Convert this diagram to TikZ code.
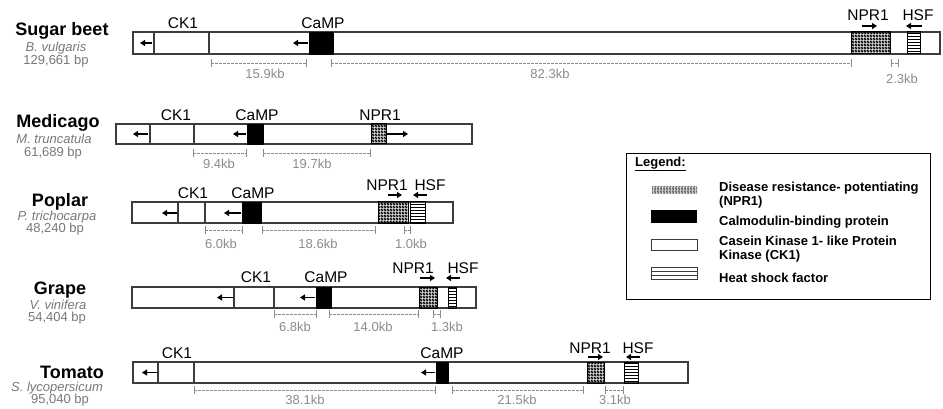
\documentclass[tikz,border=0pt]{standalone}
\usepackage{fontspec}
\setmainfont{Liberation Sans}
\usetikzlibrary{arrows.meta,patterns}
\definecolor{boxgray}{RGB}{60,60,60}
\definecolor{dimgray}{RGB}{140,140,140}
\definecolor{spgray}{RGB}{120,120,120}
\newcommand\ttlf{\fontsize{18}{20}\selectfont\bfseries}
\newcommand\genef{\fontsize{15.5}{17}\selectfont}
\newcommand\spf{\fontsize{13}{14}\selectfont\itshape}
\newcommand\bpf{\fontsize{13}{14}\selectfont}
\newcommand\dimf{\fontsize{13}{14}\selectfont}
\newcommand\legf{\fontsize{13}{14}\selectfont\bfseries}
\pgfdeclarepatternformonly{stipple}{\pgfqpoint{0pt}{0pt}}{\pgfqpoint{3pt}{3pt}}{\pgfqpoint{3pt}{3pt}}{%
  \pgfseteorule
  \pgfpathrectangle{\pgfqpoint{0pt}{0pt}}{\pgfqpoint{3pt}{3pt}}%
  \pgfpathcircle{\pgfqpoint{0.75pt}{0.75pt}}{0.72pt}%
  \pgfpathcircle{\pgfqpoint{2.25pt}{2.25pt}}{0.72pt}%
  \pgfusepath{fill}}
\tikzset{
  chrom/.style={draw=boxgray, line width=1.2pt, fill=white},
  divline/.style={draw=boxgray, line width=1.2pt},
  campbox/.style={fill=black, draw=black, line width=0.8pt},
  nprbox/.style={draw=black, line width=1pt, pattern=stipple, pattern color=black},
  hsfbox/.style={draw=black, line width=1pt, pattern=horizontal lines, pattern color=black},
  dirarrow/.style={line width=1.4pt, -{Triangle[length=5pt,width=6pt]}},
  dimln/.style={draw=dimgray, line width=0.7pt, dash pattern=on 2.5pt off 1.5pt},
  dimtick/.style={draw=dimgray, line width=0.7pt},
  gl/.style={font=\genef, inner sep=0pt},
  dl/.style={font=\dimf, text=dimgray, inner sep=0pt},
  ttl/.style={font=\ttlf, inner sep=0pt},
  spl/.style={font=\spf, text=spgray, inner sep=0pt},
  bpl/.style={font=\bpf, text=spgray, inner sep=0pt},
  legtxt/.style={font=\legf, inner sep=0pt, anchor=west, align=left},
}
% #1 x1, #2 x2, #3 y, #4 label x, #5 label y, #6 text
\newcommand\kbdim[6]{%
  \coordinate (dA) at (#1,#3); \coordinate (dB) at (#2,#3);
  \draw[dimln] (dA) -- (dB);
  \draw[dimtick] ([yshift=4pt]dA) -- ([yshift=-4pt]dA);
  \draw[dimtick] ([yshift=4pt]dB) -- ([yshift=-4pt]dB);
  \node[dl] at (#4,#5) {#6};
}
\begin{document}
\begin{tikzpicture}[x=1pt,y=-1pt]
\useasboundingbox (0,0) rectangle (943,409);
\fill[white] (0,0) rectangle (943,409);

% ---------------- Sugar beet ----------------
\node[ttl] (t1) at (62,31) {Sugar beet};
\node[spl] (s1) at (56,48) {B. vulgaris};
\node[bpl] (b1) at (56,61) {129,661 bp};
\draw[chrom] (133,32) rectangle (940,54);
\draw[divline] (154,32) -- (154,54);
\draw[divline] (209,32) -- (209,54);
\draw[dirarrow] (152,43) -- (140,43);
\draw[campbox] (309,32) rectangle (333,54);
\draw[dirarrow] (308,43) -- (293,43);
\draw[nprbox] (851,32) rectangle (890,54);
\draw[hsfbox] (907,32) rectangle (920,54);
\node[gl] (ck1a) at (183,23) {CK1};
\node[gl] (cam1) at (323,23) {CaMP};
\node[gl] (npr1) at (868,15) {NPR1};
\node[gl] (hsf1) at (918,15) {HSF};
\draw[dirarrow] (862,26) -- (877,26);
\draw[dirarrow] (922,26) -- (906,26);
\kbdim{211}{306}{63}{265}{74}{15.9kb}
\kbdim{331}{851}{63}{550}{74}{82.3kb}
\kbdim{891}{898}{63}{902}{79}{2.3kb}

% ---------------- Medicago ----------------
\node[ttl] (t2) at (58,123) {Medicago};
\node[spl] (s2) at (54,139) {M. truncatula};
\node[bpl] (b2) at (53,153) {61,689 bp};
\draw[chrom] (116,124) rectangle (472,144);
\draw[divline] (150,124) -- (150,144);
\draw[divline] (194,124) -- (194,144);
\draw[dirarrow] (148,134) -- (133,134);
\draw[campbox] (247,124) rectangle (263,144);
\draw[dirarrow] (246,134) -- (233,134);
\draw[nprbox] (371,124) rectangle (386,144);
\draw[dirarrow] (387,134) -- (408,134);
\node[gl] (ck12) at (176,115) {CK1};
\node[gl] (cam2) at (257,115) {CaMP};
\node[gl] (npr2) at (380,115) {NPR1};
\kbdim{193}{246}{153}{219}{164}{9.4kb}
\kbdim{263}{370}{153}{312}{164}{19.7kb}

% ---------------- Poplar ----------------
\node[ttl] (t3) at (60,202) {Poplar};
\node[spl] (s3) at (57,217) {P. trichocarpa};
\node[bpl] (b3) at (55,229) {48,240 bp};
\draw[chrom] (132,202) rectangle (453,223);
\draw[divline] (178,202) -- (178,223);
\draw[divline] (205,202) -- (205,223);
\draw[dirarrow] (177,213) -- (162,213);
\draw[campbox] (242,202) rectangle (261,223);
\draw[dirarrow] (241,213) -- (224,213);
\draw[nprbox] (378,202) rectangle (408,223);
\draw[hsfbox] (410,202) rectangle (425,223);
\node[gl] (ck13) at (193,193) {CK1};
\node[gl] (cam3) at (253,193) {CaMP};
\node[gl] (npr3) at (387,185) {NPR1};
\node[gl] (hsf3) at (430,185) {HSF};
\draw[dirarrow] (388,195) -- (402,195);
\draw[dirarrow] (427,195) -- (413,195);
\kbdim{205}{242}{230}{221}{244}{6.0kb}
\kbdim{262}{375}{230}{318}{244}{18.6kb}
\kbdim{404}{410}{230}{411}{244}{1.0kb}

% ---------------- Grape ----------------
\node[ttl] (t4) at (60,290) {Grape};
\node[spl] (s4) at (58,305) {V. vinifera};
\node[bpl] (b4) at (57,318) {54,404 bp};
\draw[chrom] (132,287) rectangle (476,308);
\draw[divline] (234,287) -- (234,308);
\draw[divline] (274,287) -- (274,308);
\draw[dirarrow] (233,297.5) -- (217,297.5);
\draw[campbox] (316,287) rectangle (331,308);
\draw[dirarrow] (315,297.5) -- (300,297.5);
\draw[nprbox] (419,287) rectangle (437,308);
\draw[hsfbox] (448,287) rectangle (456,308);
\node[gl] (ck14) at (256,277) {CK1};
\node[gl] (cam4) at (326,277) {CaMP};
\node[gl] (npr4) at (413,268) {NPR1};
\node[gl] (hsf4) at (463,268) {HSF};
\draw[dirarrow] (420,278) -- (435,278);
\draw[dirarrow] (460,278) -- (446,278);
\kbdim{274}{316}{314}{295}{327}{6.8kb}
\kbdim{329}{418}{314}{373}{327}{14.0kb}
\kbdim{433}{440}{314}{447}{327}{1.3kb}

% ---------------- Tomato ----------------
\node[ttl] (t5) at (72,372) {Tomato};
\node[spl] (s5) at (57,388) {S. lycopersicum};
\node[bpl] (b5) at (60,400) {95,040 bp};
\draw[chrom] (133,362) rectangle (688,383);
\draw[divline] (158,362) -- (158,383);
\draw[divline] (194,362) -- (194,383);
\draw[dirarrow] (157,372.5) -- (142,372.5);
\draw[campbox] (436,362) rectangle (448,383);
\draw[dirarrow] (435,372.5) -- (421,372.5);
\draw[nprbox] (587,362) rectangle (604,383);
\draw[hsfbox] (624,362) rectangle (638,383);
\node[gl] (ck15) at (177,353) {CK1};
\node[gl] (cam5) at (442,353) {CaMP};
\node[gl] (npr5) at (590,348) {NPR1};
\node[gl] (hsf5) at (638,348) {HSF};
\draw[dirarrow] (588,357) -- (603,357);
\draw[dirarrow] (640,357) -- (626,357);
\kbdim{194}{435}{390}{305}{400}{38.1kb}
\kbdim{452}{583}{390}{517}{400}{21.5kb}
\kbdim{605}{623}{390}{615}{400}{3.1kb}

% ---------------- Legend ----------------
\draw[black, line width=0.9pt] (626,153) rectangle (930,299);
\node[font=\legf, inner sep=0pt, anchor=west] (leg) at (635,164) {\underline{Legend:}};
\fill[pattern=stipple, pattern color=black!60] (652,187) rectangle (697,194);
\fill[black] (651,210) rectangle (697,223);
\draw[boxgray, line width=0.8pt] (651,239) rectangle (697,250);
\draw[boxgray, line width=0.8pt] (651,267) rectangle (697,279);
\draw[boxgray, line width=0.6pt] (651,271) -- (697,271);
\draw[boxgray, line width=0.6pt] (651,275) -- (697,275);
\node[legtxt] (l1) at (719,195.5) {Disease resistance- potentiating\\(NPR1)};
\node[legtxt] (l2) at (719,222) {Calmodulin-binding protein};
\node[legtxt] (l3) at (719,249.5) {Casein Kinase 1- like Protein\\Kinase (CK1)};
\node[legtxt] (l4) at (719,278) {Heat shock factor};
\end{tikzpicture}
\end{document}
